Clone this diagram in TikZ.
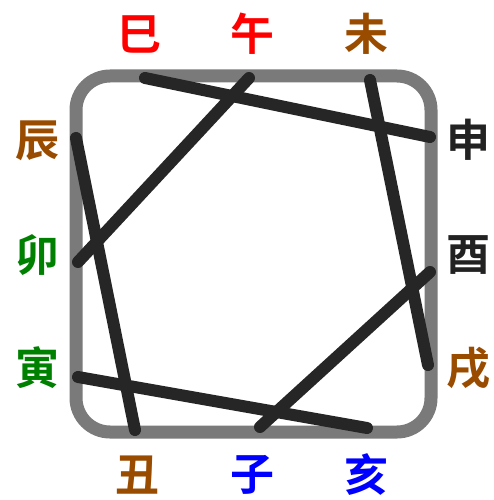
\documentclass[tikz,border=0pt]{standalone}
\usepackage{fontspec}
\newfontfamily\cjk{Noto Sans CJK SC}[BoldFont={* Bold}]
\definecolor{cred}{HTML}{FF0000}
\definecolor{cbrown}{HTML}{994C00}
\definecolor{cgreen}{HTML}{008000}
\definecolor{cblue}{HTML}{0000FF}
\definecolor{cblack}{HTML}{222222}
\definecolor{cframe}{HTML}{7A7A7A}
\definecolor{cline}{HTML}{262626}
\tikzset{
  lbl/.style={font=\cjk\bfseries\fontsize{44}{44}\selectfont, inner sep=0pt, anchor=center},
  frame/.style={draw=cframe, line width=13pt, rounded corners=34pt},
  chord/.style={draw=cline, line width=12pt, line cap=round},
}
\begin{document}
\begin{tikzpicture}[x=1pt,y=-1pt]
\useasboundingbox (0,0) rectangle (494,500);
\fill[white] (0,0) rectangle (494,500);
\draw[frame] (76,76) rectangle (431,432);
% labels
\node[lbl, text=cred] (si) at (139,34) {巳};
\node[lbl, text=cred] (wu) at (252,34) {午};
\node[lbl, text=cbrown] (wei) at (366,34) {未};
\node[lbl, text=cblack] (shen) at (468,140) {申};
\node[lbl, text=cblack] (you) at (468,255) {酉};
\node[lbl, text=cbrown] (xu) at (468,368) {戌};
\node[lbl, text=cbrown] (chou) at (137,475) {丑};
\node[lbl, text=cblue] (zi) at (252,475) {子};
\node[lbl, text=cblue] (hai) at (366,475) {亥};
\node[lbl, text=cbrown] (chen) at (37,141) {辰};
\node[lbl, text=cgreen] (mao) at (37,255) {卯};
\node[lbl, text=cgreen] (yin) at (37,368) {寅};
% endpoints
\coordinate (pSi) at (145,78);
\coordinate (pShen) at (430,137);
\coordinate (pWu) at (249,78);
\coordinate (pMao) at (78,262);
\coordinate (pWei) at (370,80);
\coordinate (pXu) at (428,365);
\coordinate (pChen) at (76,138);
\coordinate (pChou) at (135,430);
\coordinate (pYin) at (78,377);
\coordinate (pHai) at (367,428);
\coordinate (pZi) at (260,427);
\coordinate (pYou) at (430,272);
\draw[chord] (pSi) -- (pShen);
\draw[chord] (pWu) -- (pMao);
\draw[chord] (pWei) -- (pXu);
\draw[chord] (pChen) -- (pChou);
\draw[chord] (pYin) -- (pHai);
\draw[chord] (pZi) -- (pYou);
\end{tikzpicture}
\end{document}
